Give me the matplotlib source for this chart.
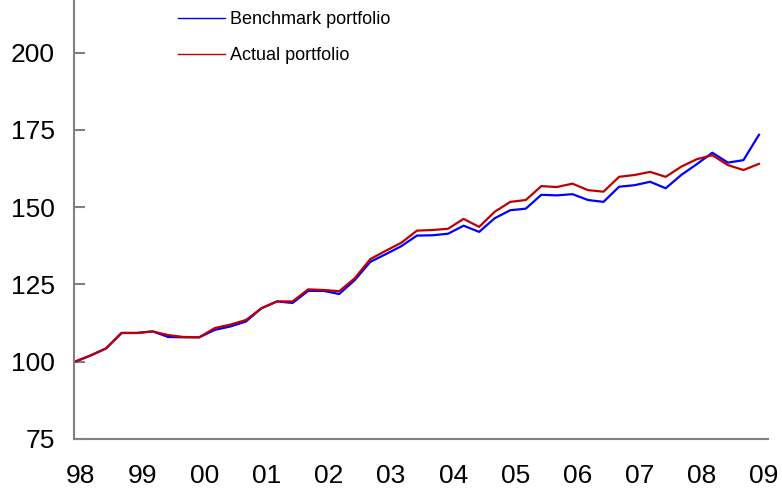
import matplotlib.pyplot as plt

plt.rcParams['font.family'] = ['Liberation Sans', 'DejaVu Sans']

# quarterly index levels, 1998 Q1 .. 2009 Q1
benchmark = [100.0, 102.0, 104.3, 109.3, 109.3, 109.8, 108.0, 107.9, 107.9, 110.3,
             111.4, 113.0, 117.3, 119.5, 119.0, 122.9, 122.9, 121.9, 126.4, 132.3,
             134.8, 137.4, 140.8, 140.9, 141.4, 144.0, 142.0, 146.4, 149.0, 149.5,
             154.0, 153.8, 154.2, 152.3, 151.7, 156.6, 157.1, 158.2, 156.1, 160.4,
             163.9, 167.6, 164.4, 165.2, 173.4]
actual = [100.0, 102.0, 104.3, 109.3, 109.3, 109.8, 108.6, 108.0, 107.9, 110.9,
          112.0, 113.5, 117.3, 119.5, 119.5, 123.4, 123.2, 122.8, 127.0, 133.2,
          135.9, 138.5, 142.4, 142.6, 143.0, 146.2, 143.6, 148.5, 151.7, 152.3,
          156.8, 156.5, 157.6, 155.5, 155.0, 159.8, 160.4, 161.4, 159.8, 163.1,
          165.5, 166.8, 163.6, 162.0, 164.0]
year_labels = ['98', '99', '00', '01', '02', '03', '04', '05', '06', '07', '08', '09']
y_ticks = [75, 100, 125, 150, 175, 200]

fig = plt.figure(figsize=(7.82, 4.96), dpi=100)
ax = fig.add_axes([74 / 782, 57 / 496, 694 / 782, 439 / 496])

x = list(range(len(benchmark)))
ax.plot(x, benchmark, color='#0000FF', lw=1.6, label='Benchmark portfolio')
ax.plot(x, actual, color='#C00000', lw=1.6, label='Actual portfolio')

ax.set_xlim(-0.06, 44.58)
ax.set_ylim(75, 217)

ax.set_yticks(y_ticks)
ax.set_xticks([4 * i + 0.33 for i in range(len(year_labels))])
ax.set_xticklabels(year_labels)

for side in ['top', 'right']:
    ax.spines[side].set_visible(False)
for side in ['left', 'bottom']:
    ax.spines[side].set_color('#808080')
    ax.spines[side].set_linewidth(1.5)

ax.tick_params(axis='y', direction='in', length=8, width=1.5, color='#808080',
               labelsize=19, pad=14)
ax.tick_params(axis='x', length=0, labelsize=19, pad=18)

ax.legend(loc='upper left', bbox_to_anchor=(178 / 782, 1 - 11 / 496),
          bbox_transform=fig.transFigure, frameon=False, fontsize=13,
          handlelength=2.6, handletextpad=0.3, labelspacing=1.08,
          borderaxespad=0, borderpad=0)
for line in ax.get_legend().get_lines():
    line.set_linewidth(1.0)

fig.savefig('out.png', dpi=100)
